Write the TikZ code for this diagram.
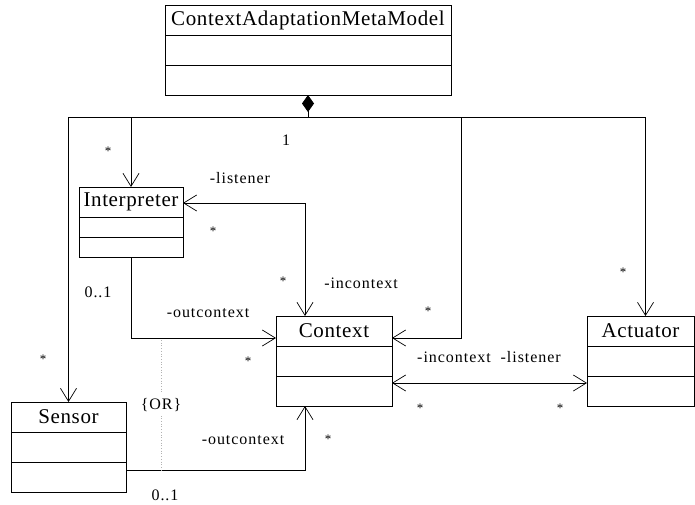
\documentclass[tikz,border=0pt]{standalone}
\usepackage{fontspec}
\setmainfont{Liberation Serif}
\newfontfamily\headfont[LetterSpace=3]{Liberation Serif}
\newfontfamily\rolefont[LetterSpace=6]{Liberation Serif}
\usetikzlibrary{arrows.meta,positioning,calc}
\tikzset{
  classhead/.style={draw,line width=0.9pt,outer sep=0pt,inner sep=0pt,minimum height=30pt,font=\headfont\fontsize{21}{24}\selectfont,anchor=north west},
  classbody/.style={draw,line width=0.9pt,outer sep=0pt,inner sep=0pt,minimum height=60pt,path picture={\draw[line width=0.9pt](path picture bounding box.west)--(path picture bounding box.east);}},
  assoc/.style={-{Straight Barb[length=13pt,width=16pt]},line width=0.7pt},
  biassoc/.style={{Straight Barb[length=13pt,width=16pt]}-{Straight Barb[length=13pt,width=16pt]},line width=0.7pt},
  compose/.style={{Diamond[length=17pt,width=12pt]}-,line width=0.8pt},
  rolelabel/.style={font=\rolefont\fontsize{16}{18}\selectfont,inner sep=0pt},
  multlabel/.style={font=\fontsize{13}{15}\selectfont,inner sep=0pt},
  orline/.style={dotted,draw=gray!60,line width=0.7pt}
}
\begin{document}
\begin{tikzpicture}[x=1pt,y=-1pt]
\useasboundingbox (0,0) rectangle (695,504);
% classes
\node[classhead,minimum width=286pt](meta) at (165,5){ContextAdaptationMetaModel};
\node[classbody,below=0pt of meta,minimum width=286pt](metab){};
\node[classhead,minimum width=104pt](interp) at (79,187){Interpreter};
\node[classbody,below=0pt of interp,minimum width=104pt,minimum height=40pt](interpb){};
\node[classhead,minimum width=116pt](ctx) at (276,316){Context};
\node[classbody,below=0pt of ctx,minimum width=116pt](ctxb){};
\node[classhead,minimum width=107pt](act) at (587,316){Actuator};
\node[classbody,below=0pt of act,minimum width=107pt](actb){};
\node[classhead,minimum width=115pt](sensor) at (11,402){Sensor};
\node[classbody,below=0pt of sensor,minimum width=115pt](sensorb){};
% composition
\coordinate(hub) at (308,117);
\draw[compose](metab.south)--(hub);
\draw[assoc](hub)-|(interp.north);
\draw[assoc](hub)-|(sensor.north);
\draw[assoc](hub)-|([xshift=5pt]act.north);
\draw[assoc](hub)-|([xshift=69pt,yshift=-7pt]ctx.east)--([yshift=-7pt]ctx.east);
% associations
\draw[biassoc]([yshift=-1pt]interp.east)-|([xshift=-29pt]ctx.north);
\draw[assoc](interpb.south)|-([yshift=-7pt]ctx.west);
\draw[assoc]([yshift=-8pt]sensorb.east)-|([xshift=-29pt]ctxb.south);
\draw[biassoc]([yshift=-7pt]ctxb.east)--([yshift=-7pt]actb.west);
% or constraint
\coordinate(orTop) at (161,340);
\coordinate(orBot) at (161,470);
\draw[orline](orTop)--node[fill=white,rolelabel,inner ysep=4pt]{\{OR\}}(orBot);
% labels
\node[multlabel] at (108,151){*};
\node[rolelabel] at (286,140){1};
\node[rolelabel] at (240,178){-listener};
\node[multlabel] at (213,231){*};
\node[multlabel] at (283,281){*};
\node[rolelabel] at (361,283){-incontext};
\node[multlabel] at (428,311){*};
\node[multlabel] at (623,272){*};
\node[rolelabel] at (98,292){0..1};
\node[rolelabel] at (208,313){-outcontext};
\node[multlabel] at (248,361){*};
\node[multlabel] at (43,359){*};
\node[rolelabel] at (489,357){-incontext\ \ -listener};
\node[multlabel] at (420,408){*};
\node[multlabel] at (560,408){*};
\node[rolelabel] at (243,440){-outcontext};
\node[multlabel] at (328,439){*};
\node[rolelabel] at (165,495){0..1};
\end{tikzpicture}
\end{document}
